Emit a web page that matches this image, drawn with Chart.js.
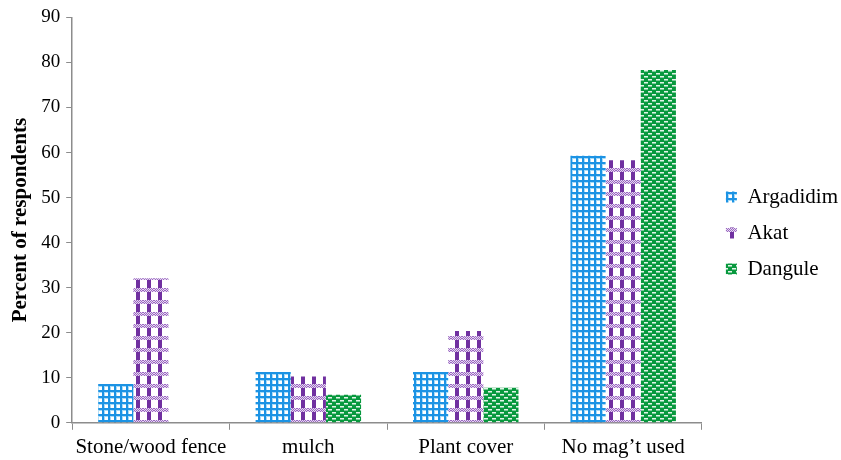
<!DOCTYPE html>
<html>
<head>
<meta charset="utf-8">
<script src="https://cdn.jsdelivr.net/npm/chart.js@4/dist/chart.umd.min.js"></script>
<style>
  body { margin: 0; background: #fff; }
  #wrap { width: 841px; height: 460px; }
</style>
</head>
<body>
<div id="wrap"><canvas id="chart"></canvas></div>
<script>
const categories = ['Stone/wood fence', 'mulch', 'Plant cover', 'No mag\u2019t used'];
const argadidim = [8.6, 11.3, 11.3, 59.3];
const akat = [32.1, 10.3, 20.4, 58.3];
const dangule = [0, 6.2, 7.8, 78.3];
const seriesNames = ['Argadidim', 'Akat', 'Dangule'];
const yTicks = { min: 0, max: 90, step: 10 };

function makePattern(w, h, draw) {
  const c = document.createElement('canvas');
  c.width = w;
  c.height = h;
  const g = c.getContext('2d');
  draw(g);
  return g.createPattern(c, 'repeat');
}

// blue grid
const bluePattern = makePattern(6, 6, g => {
  g.fillStyle = '#ffffff';
  g.fillRect(0, 0, 6, 6);
  g.fillStyle = '#a6daf7';
  g.fillRect(0, 2, 6, 1);
  g.fillRect(2, 0, 1, 6);
  g.fillStyle = '#1c93e4';
  g.fillRect(0, 0, 6, 2);
  g.fillRect(0, 0, 2, 6);
});

// purple plaid
const purplePattern = makePattern(11, 12, g => {
  g.fillStyle = '#ffffff';
  g.fillRect(0, 0, 11, 12);
  g.fillStyle = '#7030a0';
  g.fillRect(4, 0, 4, 12);
  for (let x = 0; x < 11; x++) {
    for (let y = 0; y < 4; y++) {
      g.fillStyle = (x + y) % 2 === 0 ? '#9a68c2' : '#e6d8f0';
      g.fillRect(x, y, 1, 1);
    }
  }
});

// green with white dashes
const greenPattern = makePattern(8, 6, g => {
  g.fillStyle = '#08993e';
  g.fillRect(0, 0, 8, 6);
  g.fillStyle = '#e2f4e8';
  g.fillRect(0, 1, 4, 1);
  g.fillRect(4, 4, 4, 1);
  g.fillStyle = '#7cc99a';
  g.fillRect(0, 2, 4, 1);
  g.fillRect(4, 5, 4, 1);
});

const axisColor = '#8c8c8c';
const serif = "'Liberation Serif', 'Times New Roman', serif";

// nudge the legend a bit, like in the original figure
const legendShift = {
  id: 'legendShift',
  afterLayout(chart) {
    chart.legend.left += 9;
    chart.legend.right += 9;
    chart.legend.top -= 3;
    chart.legend.bottom -= 3;
  }
};

new Chart(document.getElementById('chart'), {
  type: 'bar',
  data: {
    labels: categories,
    datasets: [
      { label: seriesNames[0], data: argadidim, backgroundColor: bluePattern, borderWidth: 0 },
      { label: seriesNames[1], data: akat, backgroundColor: purplePattern, borderWidth: 0 },
      { label: seriesNames[2], data: dangule, backgroundColor: greenPattern, borderWidth: 0 }
    ]
  },
  options: {
    responsive: true,
    maintainAspectRatio: false,
    animation: false,
    layout: { padding: { top: 7, right: 2, left: 6, bottom: -5 } },
    datasets: { bar: { categoryPercentage: 0.67, barPercentage: 1.0 } },
    plugins: {
      tooltip: { enabled: false },
      legend: {
        position: 'right',
        labels: {
          font: { family: serif, size: 21 },
          color: '#000',
          boxWidth: 11,
          boxHeight: 11,
          padding: 15
        }
      }
    },
    scales: {
      x: {
        grid: { display: true, drawOnChartArea: false, color: axisColor, tickLength: 7, offset: true },
        border: { color: axisColor, width: 1.5 },
        ticks: { font: { family: serif, size: 21 }, color: '#000', padding: 5, maxRotation: 0, autoSkip: false }
      },
      y: {
        min: yTicks.min,
        max: yTicks.max,
        grid: { display: true, drawOnChartArea: false, color: axisColor, tickLength: 6 },
        border: { color: axisColor, width: 1.5 },
        ticks: { stepSize: yTicks.step, font: { family: serif, size: 19 }, color: '#000', padding: 6 },
        title: {
          display: true,
          text: 'Percent of respondents',
          font: { family: serif, size: 21, weight: 'bold' },
          color: '#000',
          padding: 2
        }
      }
    }
  },
  plugins: [legendShift]
});
</script>
</body>
</html>
